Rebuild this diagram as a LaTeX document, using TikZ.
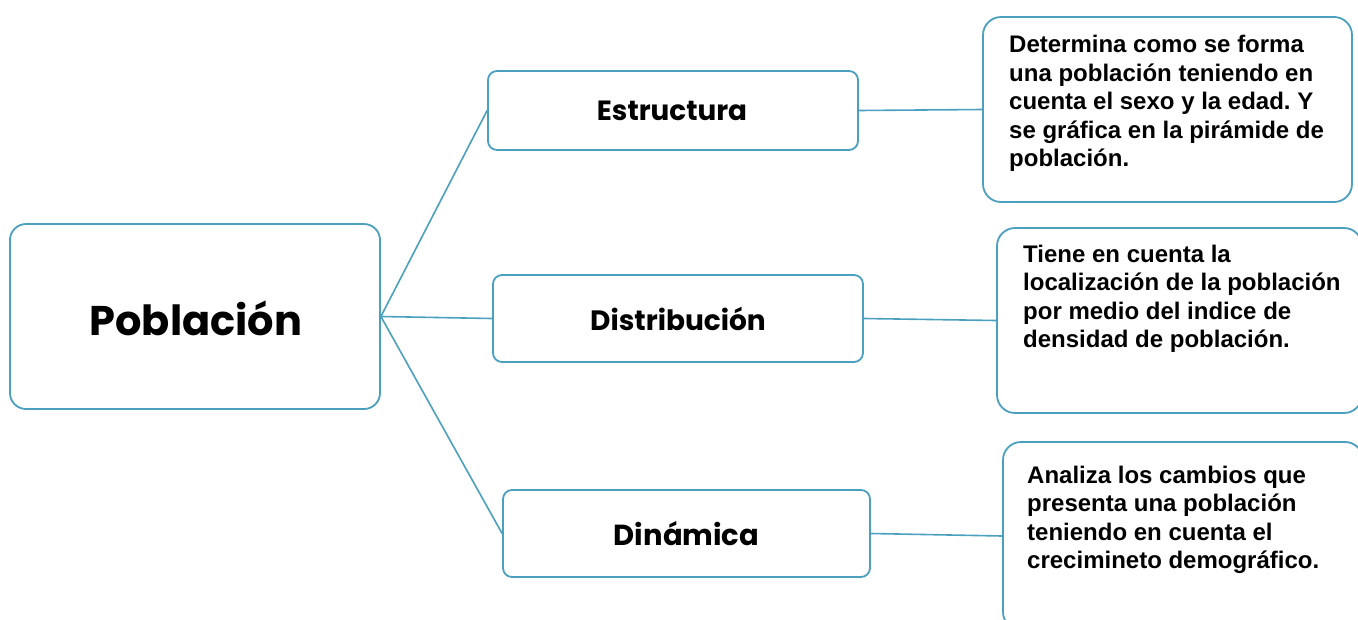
\documentclass[tikz,border=0pt]{standalone}
\usepackage{fontspec}
\setmainfont{Liberation Sans}
\newfontfamily\geofont{Poppins}
\definecolor{teal}{RGB}{75,160,192}
\tikzset{
  box/.style={draw=teal, line width=1.8pt, rounded corners=#1, fill=white, inner sep=0pt},
  box/.default=9pt,
  link/.style={draw=teal, line width=1.6pt},
  lbl/.style={font=\geofont\bfseries\fontsize{#1}{#1}\selectfont},
  desc/.style={anchor=north west, align=left, inner sep=0pt,
               font=\bfseries\fontsize{24}{28.5}\selectfont}
}
\frenchspacing
\begin{document}
\begin{tikzpicture}[x=1pt,y=-1pt]
\useasboundingbox[fill=white] (0,0) rectangle (1358,619);
% main boxes
\node[box=16pt, minimum width=370pt, minimum height=185pt] (pob) at (195,316.5) {};
\node[lbl=41.5] (pobt) at (196,318) {Población};
\node[box, minimum width=370pt, minimum height=79pt] (est) at (673,110.5) {};
\node[lbl=27.8] (estt) at (672,111) {Estructura};
\node[box, minimum width=370pt, minimum height=87pt] (dis) at (678,318.5) {};
\node[lbl=28] (dist) at (678,319) {Distribución};
\node[box, minimum width=367pt, minimum height=87pt] (din) at (686.5,533.5) {};
\node[lbl=29] (dint) at (686.5,534) {Dinámica};
% description boxes
\node[box=18pt, minimum width=369pt, minimum height=185pt] (d1) at (1167.5,109.5) {};
\node[box=18pt, minimum width=365pt, minimum height=185pt] (d2) at (1179.5,320.5) {};
\node[box=18pt, minimum width=360pt, minimum height=188pt] (d3) at (1183,536) {};
% connectors
\draw[link] (pob.east) -- (est.west);
\draw[link] (pob.east) -- (dis.west);
\draw[link] (pob.east) -- (din.west);
\draw[link] (est.east) -- (d1.west);
\draw[link] (dis.east) -- (d2.west);
\draw[link] (din.east) -- (d3.west);
% texts
\node[desc] (t1) at (1009,35) {Determina como se forma\\una población teniendo en\\cuenta el sexo y la edad. Y\\se gráfica en la pirámide de\\población.};
\node[desc] (t2) at (1023,244.5) {Tiene en cuenta la\\localización de la población\\por medio del indice de\\densidad de población.};
\node[desc] (t3) at (1027,465.5) {Analiza los cambios que\\presenta una población\\teniendo en cuenta el\\crecimineto demográfico.};
\end{tikzpicture}
\end{document}
